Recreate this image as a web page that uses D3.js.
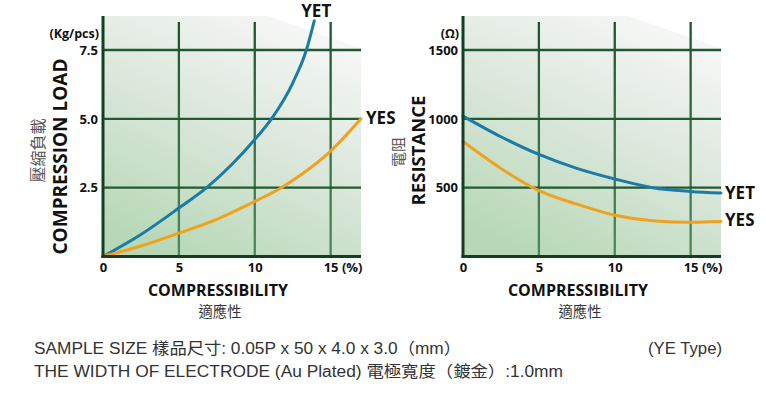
<!DOCTYPE html>
<html><head><meta charset="utf-8">
<script src="https://cdn.jsdelivr.net/npm/d3@7"></script>
<style>html,body{margin:0;padding:0;background:#fff;} svg{display:block}</style>
</head><body><svg id="c" width="766" height="393"></svg>
<script>
// ---- data ----
const xTicks = [0, 5, 10, 15];
const loadTicks = [2.5, 5.0, 7.5];
const resistanceTicks = [500, 1000, 1500];

const loadYET_x = [0, 2.5, 5, 6.83, 8.5, 10, 11.1, 12.5, 13.4, 13.92];
const loadYET   = [0, 0.8, 1.76, 2.5, 3.35, 4.25, 5.0, 6.3, 7.5, 8.56];
const loadYES_x = [0, 2.5, 5, 7.5, 10, 11.75, 13, 15, 17];
const loadYES   = [0, 0.38, 0.85, 1.35, 2.0, 2.5, 2.95, 3.83, 5.0];

const resYET_x = [0, 2.5, 5, 7.5, 10, 12.5, 15, 17];
const resYET   = [1020, 870, 741, 640, 563, 500, 473, 461];
const resYES_x = [0, 2.5, 5, 7.5, 10, 12.5, 15, 17];
const resYES   = [835, 640, 478, 380, 300, 260, 249, 254];

const seriesNames = ["YET", "YES"];
const footLine1 = "SAMPLE SIZE 樣品尺寸: 0.05P x 50 x 4.0 x 3.0（mm）";
const footLine2 = "THE WIDTH OF ELECTRODE (Au Plated) 電極寬度（鍍金）:1.0mm";
const footType = "(YE Type)";

// ---- drawing ----
const svg = d3.select("#c");
const defs = svg.append("defs");
const bg = defs.append("linearGradient").attr("id", "bg")
  .attr("x1", 0.75).attr("y1", 0).attr("x2", 0.25).attr("y2", 1);
bg.append("stop").attr("offset", 0).attr("stop-color", "#f7f7f7");
bg.append("stop").attr("offset", 0.45).attr("stop-color", "#dde8dd");
bg.append("stop").attr("offset", 1).attr("stop-color", "#b6d8b6");
const vg = defs.append("linearGradient").attr("id", "vg")
  .attr("gradientUnits", "userSpaceOnUse").attr("x1", 0).attr("x2", 0).attr("y1", 22).attr("y2", 257);
vg.append("stop").attr("offset", 0).attr("stop-color", "#1c5530");
vg.append("stop").attr("offset", 1).attr("stop-color", "#4a8a5a");

const TOP = 16, BOTTOM = 256.5, W = 258;
const BLUE = "#1b7ba6", ORANGE = "#f0a11e";
const boldFont = "'Open Sans', 'DejaVu Sans', sans-serif";
const cjkFont = "'Noto Sans CJK TC', 'Noto Sans CJK SC', sans-serif";

function panel(cfg) {
  const x0 = cfg.x0;
  const x = d3.scaleLinear().domain([0, 17]).range([x0, x0 + W]);
  const y = d3.scaleLinear().domain([0, cfg.yTicks[2]]).range([BOTTOM, 50]);
  const g = svg.append("g");

  g.append("polygon")
    .attr("points", [[x0, TOP], [x0 + 165, TOP], [x0 + W, TOP + 32], [x0 + W, BOTTOM], [x0, BOTTOM]].map(p => p.join(",")).join(" "))
    .attr("fill", "url(#bg)");

  g.selectAll(".vgrid").data(xTicks.filter(d => d > 0)).join("line")
    .attr("x1", d => x(d)).attr("x2", d => x(d)).attr("y1", 22).attr("y2", BOTTOM)
    .attr("stroke", "url(#vg)").attr("stroke-width", 2.3);
  g.selectAll(".hgrid").data(cfg.yTicks).join("line")
    .attr("x1", x0).attr("x2", x0 + W).attr("y1", d => y(d)).attr("y2", d => y(d))
    .attr("stroke", "#205a33").attr("stroke-width", 2.3);

  const line = d3.line().x(d => x(d[0])).y(d => y(d[1])).curve(d3.curveMonotoneX);
  cfg.series.forEach(s => {
    const pts = s.xs.map((v, i) => [v, s.ys[i]]);
    g.append("path").attr("d", line(pts)).attr("fill", "none")
      .attr("stroke", s.color).attr("stroke-width", 3).attr("stroke-linecap", "round");
    const last = pts[pts.length - 1];
    g.append("text").attr("x", x(last[0]) + s.dx).attr("y", y(last[1]) + s.dy)
      .attr("font-family", boldFont).attr("font-weight", 700).attr("font-size", 17)
      .attr("fill", "#111").text(s.name);
  });

  // axes
  g.append("line").attr("x1", x0).attr("x2", x0).attr("y1", TOP).attr("y2", BOTTOM + 1.5)
    .attr("stroke", "#123f22").attr("stroke-width", 3);
  g.append("line").attr("x1", x0 - 1.5).attr("x2", x0 + W).attr("y1", BOTTOM).attr("y2", BOTTOM)
    .attr("stroke", "#123f22").attr("stroke-width", 3);

  const ax = g.append("g").attr("transform", `translate(0,${BOTTOM})`)
    .call(d3.axisBottom(x).tickValues(xTicks).tickSize(0).tickPadding(6)
      .tickFormat(d => d === 15 ? "15 (%)" : d));
  ax.select(".domain").remove();
  ax.selectAll("text").attr("font-family", boldFont).attr("font-weight", 700)
    .attr("font-size", 13).attr("fill", "#111");
  ax.selectAll(".tick").filter(d => d === 15).select("text")
    .attr("text-anchor", "start").attr("x", -7.5);

  const ay = g.append("g").attr("transform", `translate(${x0},0)`)
    .call(d3.axisLeft(y).tickValues(cfg.yTicks).tickSize(0).tickPadding(5)
      .tickFormat(cfg.fmt));
  ay.select(".domain").remove();
  ay.selectAll("text").attr("font-family", boldFont).attr("font-weight", 700)
    .attr("font-size", 13).attr("fill", "#111");

  g.append("text").attr("x", x0 - 4).attr("y", 38).attr("text-anchor", "end")
    .attr("font-family", boldFont).attr("font-weight", 700).attr("font-size", 12.5)
    .attr("fill", "#111").text(cfg.unit);

  g.append("text").attr("x", x0 + 115).attr("y", 296.3).attr("text-anchor", "middle")
    .attr("font-family", boldFont).attr("font-weight", 700).attr("font-size", 16)
    .attr("fill", "#111").text("COMPRESSIBILITY");
  g.append("text").attr("x", x0 + 117).attr("y", 317.2).attr("text-anchor", "middle")
    .attr("font-family", cjkFont).attr("font-size", 14.3)
    .attr("fill", "#333").text("適應性");

  g.append("text").attr("transform", `translate(${cfg.titleX},${cfg.titleY}) rotate(-90)`)
    .attr("text-anchor", "middle")
    .attr("font-family", boldFont).attr("font-weight", 700).attr("font-size", cfg.titleSize)
    .attr("fill", "#111").text(cfg.title);
  g.append("text").attr("transform", `translate(${cfg.cjkX},${cfg.cjkY}) rotate(-90)`)
    .attr("text-anchor", "middle").attr("dominant-baseline", "central")
    .attr("font-family", cjkFont).attr("font-size", cfg.cjkSize)
    .attr("fill", "#555").text(cfg.cjk);
}

panel({
  x0: 103, yTicks: loadTicks, fmt: d3.format(".1f"), unit: "(Kg/pcs)",
  title: "COMPRESSION LOAD", titleX: 66.5, titleY: 156.5, titleSize: 19,
  cjk: "壓縮負載", cjkX: 36.5, cjkY: 150.5, cjkSize: 16,
  series: [
    { name: seriesNames[0], xs: loadYET_x, ys: loadYET, color: BLUE, dx: -13, dy: -3.8 },
    { name: seriesNames[1], xs: loadYES_x, ys: loadYES, color: ORANGE, dx: 5, dy: 5 }
  ]
});
panel({
  x0: 463, yTicks: resistanceTicks, fmt: d3.format("d"), unit: "(Ω)",
  title: "RESISTANCE", titleX: 425, titleY: 150.5, titleSize: 18.5,
  cjk: "電阻", cjkX: 397, cjkY: 152, cjkSize: 15,
  series: [
    { name: seriesNames[0], xs: resYET_x, ys: resYET, color: BLUE, dx: 4, dy: 6 },
    { name: seriesNames[1], xs: resYES_x, ys: resYES, color: ORANGE, dx: 4, dy: 4.5 }
  ]
});

// footer
const footFont = "'Liberation Sans', Arial, 'Noto Sans CJK TC', sans-serif";
function foot(txt, xx, yy, len) {
  svg.append("text").attr("x", xx).attr("y", yy)
    .attr("font-family", footFont).attr("font-size", 16).attr("fill", "#333")
    .attr("textLength", len).attr("lengthAdjust", "spacingAndGlyphs").text(txt);
}
foot(footLine1, 34, 353.5, 427);
foot(footLine2, 34, 376.5, 529);
foot(footType, 648, 353.5, 74);
</script></body></html>
